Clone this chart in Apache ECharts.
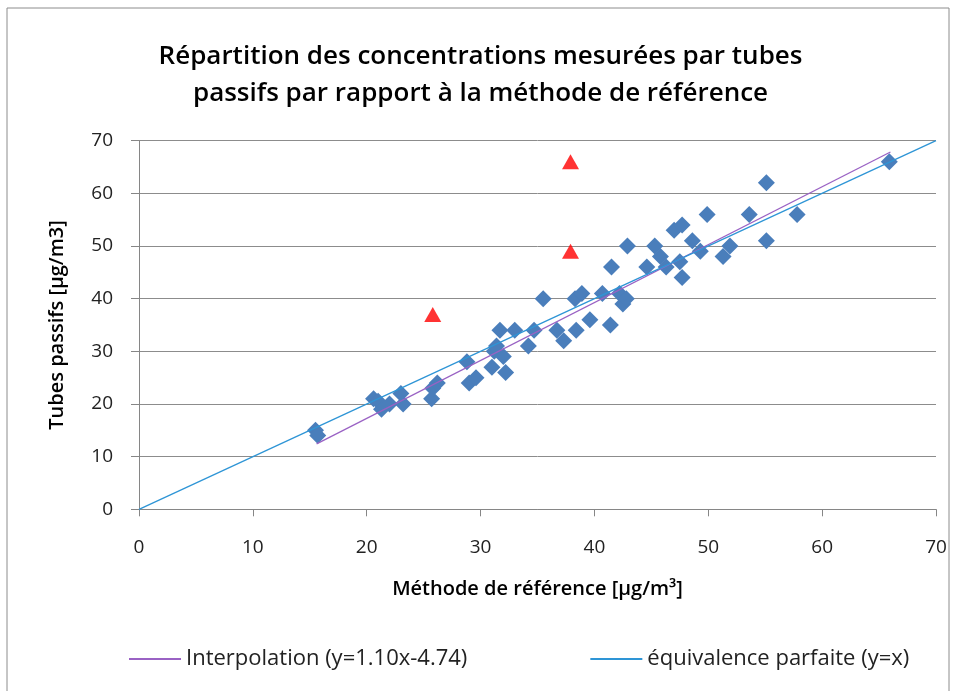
<!DOCTYPE html>
<html>
<head>
<meta charset="utf-8">
<script src="https://cdn.jsdelivr.net/npm/echarts@6/dist/echarts.min.js"></script>
<style>
  html, body { margin: 0; padding: 0; background: #fff; }
  #chart { width: 961px; height: 691px; }
</style>
</head>
<body>
<div id="chart"></div>
<script>
// Méthode de référence (x) vs tubes passifs (y)
const mesures = [
  [15.5, 15], [15.7, 14],
  [20.6, 21], [21.0, 20.5], [21.3, 19], [22.0, 20], [23.0, 22], [23.2, 20],
  [25.7, 21], [25.8, 23], [26.2, 24],
  [28.8, 28], [29.0, 24], [29.6, 25],
  [31.0, 27], [31.2, 30], [31.4, 31], [31.7, 34], [32.0, 29], [32.2, 26],
  [33.0, 34], [34.2, 31], [34.7, 34], [35.5, 40],
  [36.7, 34], [37.3, 32], [38.4, 34], [38.3, 40], [38.9, 41], [39.6, 36],
  [40.7, 41], [41.4, 35], [41.5, 46], [42.2, 41], [42.5, 39], [42.8, 40], [42.9, 50],
  [44.6, 46], [45.3, 50], [45.8, 48], [46.3, 46], [47.0, 53], [47.7, 54], [47.5, 47], [47.7, 44],
  [48.6, 51], [49.3, 49], [49.9, 56], [51.3, 48], [51.9, 50], [53.6, 56],
  [55.1, 62], [55.1, 51], [57.8, 56], [65.9, 66]
]
// points hors tendance (triangles rouges)
const horsTendance = [[25.8, 37], [37.9, 49], [37.9, 66]]
// droites
const interpolation = [[15.6, 12.42], [66.0, 67.86]]
const equivalence = [[0, 0], [70, 70]]
const xTicks = [0, 10, 20, 30, 40, 50, 60, 70]
const yTicks = [0, 10, 20, 30, 40, 50, 60, 70]

const FONT = 'Open Sans, sans-serif'
const chart = echarts.init(document.getElementById('chart'))

chart.setOption({
  backgroundColor: '#fff',
  animation: false,
  graphic: [{
    type: 'rect',
    shape: { x: 7, y: 8, width: 942, height: 700 },
    style: { fill: 'none', stroke: '#8c8c8c', lineWidth: 1 },
    silent: true
  }],
  title: {
    text: 'Répartition des concentrations mesurées par tubes\npassifs par rapport à la méthode de référence',
    left: 'center',
    top: 33,
    textStyle: { fontFamily: FONT, fontSize: 26, fontWeight: 600, color: '#000', lineHeight: 37 }
  },
  legend: {
    data: ['Interpolation (y=1.10x-4.74)', 'équivalence parfaite (y=x)'],
    left: 123,
    top: 643,
    itemWidth: 52,
    itemHeight: 2,
    itemGap: 122,
    textStyle: { fontFamily: FONT, fontSize: 22, color: '#222' }
  },
  grid: { left: 139, right: 25, top: 140.7, bottom: 181.7 },
  xAxis: {
    type: 'value',
    min: xTicks[0],
    max: xTicks[xTicks.length - 1],
    interval: 10,
    name: 'Méthode de référence [µg/m³]',
    nameLocation: 'middle',
    nameGap: 70,
    nameTextStyle: { fontFamily: FONT, fontSize: 20, fontWeight: 600, color: '#000' },
    axisLine: { show: true, lineStyle: { color: '#868686', width: 1 } },
    axisTick: { show: true, length: 7, lineStyle: { color: '#868686' } },
    axisLabel: { fontFamily: FONT, fontSize: 19, color: '#222', margin: 29 },
    splitLine: { show: false }
  },
  yAxis: {
    type: 'value',
    min: yTicks[0],
    max: yTicks[yTicks.length - 1],
    interval: 10,
    name: 'Tubes passifs [µg/m3]',
    nameLocation: 'middle',
    nameGap: 72,
    nameTextStyle: { fontFamily: FONT, fontSize: 20, fontWeight: 600, color: '#000' },
    axisLine: { show: true, lineStyle: { color: '#868686', width: 1 } },
    axisTick: { show: true, length: 8, lineStyle: { color: '#868686' } },
    axisLabel: { fontFamily: FONT, fontSize: 19, color: '#222', margin: 26 },
    splitLine: { show: true, lineStyle: { color: '#8c8c8c', width: 1 } }
  },
  series: [
    {
      name: 'mesures',
      type: 'scatter',
      data: mesures,
      symbol: 'diamond',
      symbolSize: [17, 17],
      itemStyle: { color: '#4a7ebb', opacity: 1 },
      z: 3
    },
    {
      name: 'hors tendance',
      type: 'scatter',
      data: horsTendance,
      symbol: 'triangle',
      symbolSize: [17, 15],
      itemStyle: { color: '#ff0000' },
      z: 4
    },
    {
      name: 'Interpolation (y=1.10x-4.74)',
      type: 'line',
      data: interpolation,
      symbol: 'none',
      lineStyle: { color: '#9a62c4', width: 1.3 },
      itemStyle: { color: '#9a62c4' },
      z: 5
    },
    {
      name: 'équivalence parfaite (y=x)',
      type: 'line',
      data: equivalence,
      symbol: 'none',
      lineStyle: { color: '#2e95d6', width: 1.3 },
      itemStyle: { color: '#2e95d6' },
      z: 5
    }
  ]
})
</script>
</body>
</html>
